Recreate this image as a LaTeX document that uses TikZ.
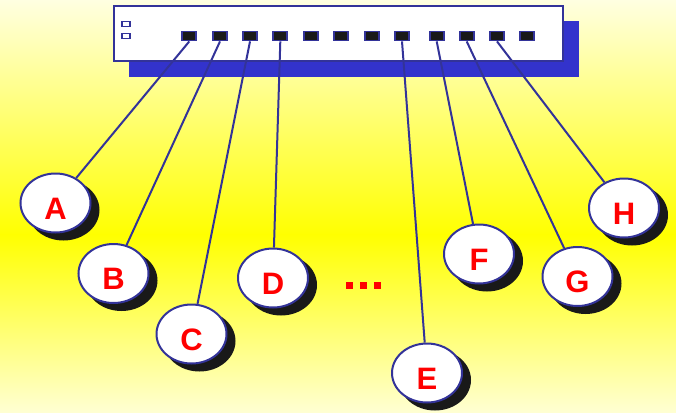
\documentclass[tikz,border=0pt]{standalone}
\usepackage{fontspec}
\setmainfont{Liberation Sans}
\usetikzlibrary{shapes.geometric}
\definecolor{bgpale}{RGB}{255,255,210}
\definecolor{bgtop}{RGB}{255,255,225}
\definecolor{bgmid}{RGB}{255,255,0}
\definecolor{navy}{RGB}{51,51,153}
\definecolor{shadowblue}{RGB}{51,51,204}
\definecolor{shade}{RGB}{25,25,25}
\tikzset{
  pc/.style={ellipse, draw=navy, line width=2pt, fill=white, minimum width=70pt, minimum height=59pt, inner sep=0pt,
    font=\fontsize{31}{31}\selectfont\bfseries, text=red, text height=32pt, text depth=0pt},
  pcshadow/.style={ellipse, fill=shade, minimum width=72pt, minimum height=61pt, inner sep=0pt},
  port/.style={draw=navy, line width=1.8pt, fill=black!90, minimum width=14pt, minimum height=9pt, inner sep=0pt},
  led/.style={draw=navy, line width=1.4pt, fill=white, minimum width=8pt, minimum height=5pt, inner sep=0pt},
  cable/.style={navy, line width=2pt},
  dot/.style={fill=red, minimum width=7pt, minimum height=7pt, inner sep=0pt}
}
\begin{document}
\begin{tikzpicture}[x=1pt,y=-1pt]
\useasboundingbox (0,0) rectangle (676,412);
\shade[top color=bgtop, bottom color=bgmid] (0,0) rectangle (676,235);
\shade[top color=bgmid, bottom color=bgpale] (0,234.5) rectangle (676,412);
% switch
\fill[shadowblue] (129,21) rectangle (579,77);
\node[draw=navy, line width=2pt, fill=white, minimum width=449pt, minimum height=55pt, inner sep=0pt, anchor=north west] (sw) at (113,5) {};
\node[led] (l1) at (126,24) {};
\node[led] (l2) at (126,36) {};
\foreach \i/\x in {1/189.3,2/220,3/250,4/280.3,5/310.7,6/341,7/371.7,8/402,9/436.7,10/466.7,11/497,12/527.3}
  \node[port] (p\i) at (\x,36) {};
% shadows
\foreach \n/\x/\y in {A/55.5/203,B/113.5/273.5,C/191.5/334,D/273/278,E/427/373,F/479/254,G/577.5/276.5,H/624/208}
  \node[pcshadow] (s\n) at (\x+8,\y+7) {};
% pcs
\node[pc] (A) at (55.5,203) {A};
\node[pc] (B) at (113.5,273.5) {B};
\node[pc] (C) at (191.5,334) {C};
\node[pc] (D) at (273,278) {D};
\node[pc] (E) at (427,373) {E};
\node[pc] (F) at (479,254) {F};
\node[pc] (G) at (577.5,276.5) {G};
\node[pc] (H) at (624,208) {H};
% cables
\draw[cable] (p1.south) -- (A);
\draw[cable] (p2.south) -- (B);
\draw[cable] (p3.south) -- (C);
\draw[cable] (p4.south) -- (D);
\draw[cable] (p8.south) -- (E);
\draw[cable] (p9.south) -- (F);
\draw[cable] (p10.south) -- (G);
\draw[cable] (p11.south) -- (H);
% dots
\node[dot] (d1) at (349,285) {};
\node[dot] (d2) at (363,285) {};
\node[dot] (d3) at (377,285) {};
\end{tikzpicture}
\end{document}
